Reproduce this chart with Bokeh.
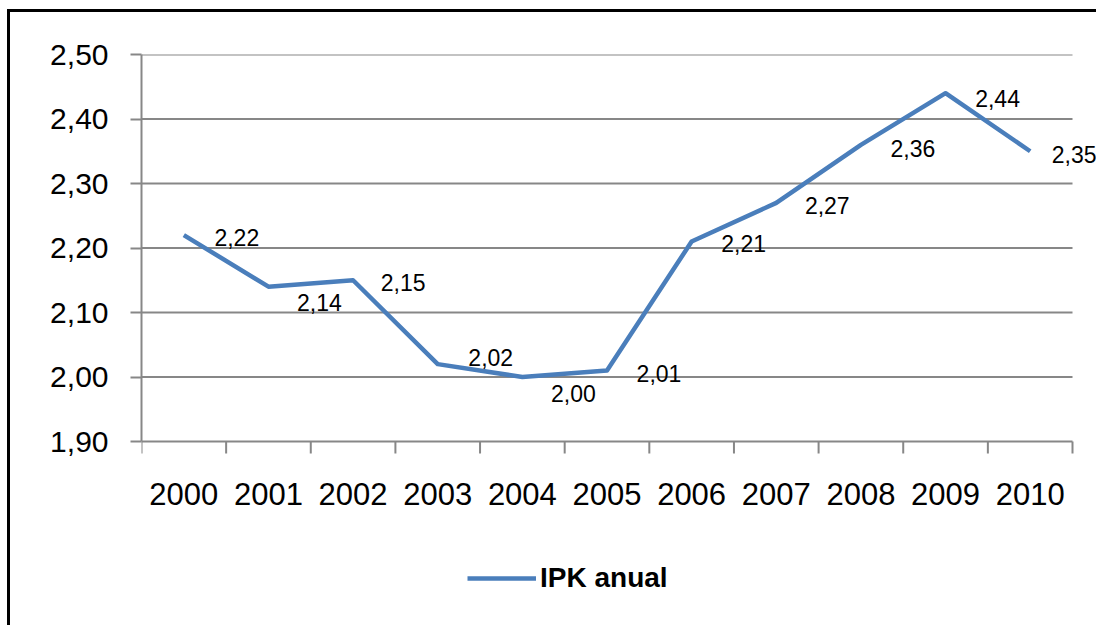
import math
from bokeh.plotting import figure
from bokeh.models import (FixedTicker, CustomJSTickFormatter, ColumnDataSource,
                          LabelSet, Legend, LegendItem, Range1d)
from bokeh.core.properties import value
from bokeh.embed import file_html
from bokeh.resources import INLINE

# ---- data ----
years = ["2000", "2001", "2002", "2003", "2004", "2005",
         "2006", "2007", "2008", "2009", "2010"]
ipk = [2.22, 2.14, 2.15, 2.02, 2.00, 2.01, 2.21, 2.27, 2.36, 2.44, 2.35]
y_ticks = [1.90, 2.00, 2.10, 2.20, 2.30, 2.40, 2.50]
series_name = "IPK anual"

# ---- label placement (style) ----
label_dx = [53, 51, 50, 53, 51, 52, 52, 51, 52, 52, 44]
label_dy = [2, 16, 2, -7, 16, 3, 2, 3, 4, 5, 3]   # pixels downward

FONT = "Liberation Sans"
GRID = "#878787"
BLUE = "#4a7ebb"

# ---- layout constants (pixels) ----
CANVAS_W, CANVAS_H = 1089, 616
LEFT, TOP = 131, 42
PLOT_W, PLOT_H = 931, 387          # the chart area proper

n = len(years)
xs = [i + 0.5 for i in range(n)]
bounds = [float(i) for i in range(n + 1)]
y0, y1 = y_ticks[0], y_ticks[-1]
frame_w = CANVAS_W - LEFT
frame_h = CANVAS_H - TOP
x_end = n * frame_w / PLOT_W
y_start = y1 - (y1 - y0) * frame_h / PLOT_H

p = figure(width=CANVAS_W, height=CANVAS_H, output_backend="svg", toolbar_location=None,
           x_range=Range1d(0, x_end), y_range=Range1d(y_start, y1),
           min_border_left=LEFT, min_border_right=0,
           min_border_top=TOP, min_border_bottom=0)
p.styles = {"margin-left": "7px", "margin-top": "9px",
            "border-top": "3px solid black", "border-left": "3px solid black"}
p.outline_line_color = None
p.background_fill_color = "white"
p.border_fill_color = "white"

p.xaxis.visible = False
p.xgrid.visible = False
p.ygrid.visible = False

ya = p.yaxis[0]
ya.ticker = FixedTicker(ticks=y_ticks, minor_ticks=[])
ya.formatter = CustomJSTickFormatter(code="return tick.toFixed(2).replace('.', ',');")
ya.bounds = (y0, y1)
ya.major_tick_out = 11
ya.major_tick_in = 0
ya.major_tick_line_color = GRID
ya.major_tick_line_width = 2
ya.axis_line_color = GRID
ya.axis_line_width = 2
ya.major_label_standoff = 22
ya.major_label_text_font = FONT
ya.major_label_text_font_size = "30px"
ya.major_label_text_color = "black"

# horizontal gridlines spanning the category area only
m = len(y_ticks)
p.segment(x0=[0] * m, x1=[n] * m, y0=y_ticks, y1=y_ticks,
          line_color=GRID, line_width=2)

# category boundary tick marks on the x axis
p.ray(x=bounds, y=[y0] * len(bounds), length=12, length_units="screen",
      angle=-math.pi / 2, line_color=GRID, line_width=2)

# category labels
ysrc = ColumnDataSource(dict(x=xs, y=[y0] * n, txt=years))
p.add_layout(LabelSet(x="x", y="y", text="txt", source=ysrc, y_offset=-52,
                      text_align="center", text_baseline="middle",
                      text_font=value(FONT), text_font_size="31px", text_color="black"))

src = ColumnDataSource(dict(
    x=xs, y=ipk,
    txt=[f"{v:.2f}".replace(".", ",") for v in ipk],
    dx=label_dx, dy=[-d for d in label_dy],
))

r = p.line("x", "y", source=src, line_color=BLUE, line_width=4.5, line_join="round")

labels = LabelSet(x="x", y="y", text="txt", source=src, x_offset="dx", y_offset="dy",
                  text_align="center", text_baseline="middle",
                  text_font=value(FONT), text_font_size="23px", text_color="black")
p.add_layout(labels)

legend = Legend(items=[LegendItem(label=series_name, renderers=[r])],
                location=(326, 34), orientation="horizontal",
                padding=0, margin=0, spacing=0,
                glyph_width=69, glyph_height=30, label_height=30, label_standoff=4,
                label_text_font=FONT, label_text_font_size="28px",
                label_text_font_style="bold", label_text_color="black",
                border_line_color=None, background_fill_alpha=0)
p.add_layout(legend, "center")

open("out.html", "w").write(file_html(p, INLINE))
